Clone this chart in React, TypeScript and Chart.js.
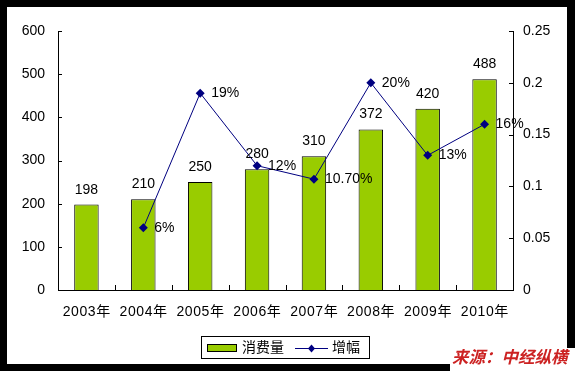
import React, { useEffect, useRef } from "react";
import { Chart, registerables } from "chart.js";

Chart.register(...registerables);

const categories = ["2003年", "2004年", "2005年", "2006年", "2007年", "2008年", "2009年", "2010年"];
const consumption = [198, 210, 250, 280, 310, 372, 420, 488];
const growth: (number | null)[] = [null, 0.06, 0.19, 0.12, 0.107, 0.2, 0.13, 0.16];
const growthLabels = ["", "6%", "19%", "12%", "10.70%", "20%", "13%", "16%"];
const leftTicks = [0, 100, 200, 300, 400, 500, 600];
const rightTicks = [0, 0.05, 0.1, 0.15, 0.2, 0.25];
const legendLabels = ["消费量", "增幅"];
const sourceText = "来源：中经纵横";

const FONT = "'Liberation Sans', Arial, 'Noto Sans CJK SC', sans-serif";

const framePlugin = {
  id: "frame",
  beforeDraw(chart: any) {
    const ctx = chart.ctx;
    const w = chart.width, h = chart.height;
    ctx.save();
    ctx.fillStyle = "#000";
    ctx.fillRect(0, 0, w, h);
    ctx.fillStyle = "#fff";
    ctx.fillRect(7, 7, 560, 357);
    ctx.fillRect(450, 348, w - 450, h - 348);
    ctx.restore();
  },
  afterDraw(chart: any) {
    const ctx = chart.ctx;
    const area = chart.chartArea;
    const yL = chart.scales.y;
    const yR = chart.scales.y1;
    ctx.save();
    ctx.strokeStyle = "#000";
    ctx.lineWidth = 1;
    ctx.beginPath();
    leftTicks.forEach((v) => {
      const py = Math.round(yL.getPixelForValue(v)) + 0.5;
      ctx.moveTo(area.left, py);
      ctx.lineTo(area.left + 4, py);
    });
    rightTicks.forEach((v) => {
      const py = Math.round(yR.getPixelForValue(v)) + 0.5;
      ctx.moveTo(area.right, py);
      ctx.lineTo(area.right - 4, py);
    });
    const n = categories.length;
    const step = (area.right - area.left) / n;
    for (let i = 1; i < n; i++) {
      const px = Math.round(area.left + step * i) + 0.5;
      ctx.moveTo(px, area.bottom);
      ctx.lineTo(px, area.bottom - 5);
    }
    ctx.stroke();

    // x category labels (drawn manually for letter spacing)
    ctx.fillStyle = "#000";
    ctx.font = "14px " + FONT;
    ctx.textAlign = "center";
    ctx.textBaseline = "middle";
    (ctx as any).letterSpacing = "0.6px";
    categories.forEach((c, i) => {
      const cx = area.left + step * (i + 0.5);
      ctx.fillText(c, cx + 0.3, area.bottom + 22);
    });
    (ctx as any).letterSpacing = "0px";

    // bar value labels
    ctx.textAlign = "center";
    ctx.textBaseline = "alphabetic";
    const barMeta = chart.getDatasetMeta(1);
    barMeta.data.forEach((el: any, i: number) => {
      ctx.fillText(String(consumption[i]), el.x, el.y - 11);
    });
    // line labels
    const lineMeta = chart.getDatasetMeta(0);
    ctx.textAlign = "left";
    ctx.textBaseline = "middle";
    lineMeta.data.forEach((el: any, i: number) => {
      if (growth[i] == null) return;
      ctx.fillText(growthLabels[i], el.x + 11, el.y);
    });

    // legend
    const lx = 201.5, ly = 336.5, lw = 168, lh = 22;
    ctx.strokeStyle = "#000";
    ctx.strokeRect(lx, ly, lw, lh);
    ctx.fillStyle = "#99CC00";
    ctx.fillRect(207, 344, 30, 8);
    ctx.strokeRect(207.5, 344.5, 29, 7);
    ctx.fillStyle = "#000";
    ctx.font = "14px " + FONT;
    ctx.textBaseline = "middle";
    ctx.fillText(legendLabels[0], 242, 348);
    ctx.strokeStyle = "#000080";
    ctx.beginPath();
    ctx.moveTo(295, 348.5);
    ctx.lineTo(328, 348.5);
    ctx.stroke();
    ctx.fillStyle = "#000080";
    ctx.beginPath();
    ctx.moveTo(311.5, 344.5);
    ctx.lineTo(315, 348.5);
    ctx.lineTo(311.5, 352.5);
    ctx.lineTo(308, 348.5);
    ctx.closePath();
    ctx.fill();
    ctx.fillStyle = "#000";
    ctx.fillText(legendLabels[1], 332, 348);

    // source
    ctx.fillStyle = "#CC2222";
    ctx.font = "italic bold 16.5px 'Noto Sans CJK SC', sans-serif";
    ctx.textAlign = "left";
    ctx.textBaseline = "middle";
    ctx.fillText(sourceText, 452, 357);
    ctx.restore();
  },
};

export default function App() {
  const ref = useRef<HTMLCanvasElement>(null);
  useEffect(() => {
    if (!ref.current) return;
    const chart = new Chart(ref.current, {
      type: "bar",
      data: {
        labels: categories,
        datasets: [
          {
            type: "line",
            label: legendLabels[1],
            data: growth,
            yAxisID: "y1",
            borderColor: "#000080",
            backgroundColor: "#000080",
            borderWidth: 1,
            pointStyle: "rectRot",
            pointRadius: 4.5,
            pointBackgroundColor: "#000080",
            pointBorderColor: "#000080",
            pointBorderWidth: 0,
            spanGaps: false,
            order: 0,
          } as any,
          {
            type: "bar",
            label: legendLabels[0],
            data: consumption,
            yAxisID: "y",
            backgroundColor: "#99CC00",
            borderColor: "#000",
            borderWidth: 1,
            barPercentage: 0.43,
            categoryPercentage: 1,
            order: 1,
          },
        ],
      },
      options: {
        animation: false,
        responsive: true,
        maintainAspectRatio: false,
        layout: { padding: { left: 0, right: 0, top: 31, bottom: 0 } },
        plugins: { legend: { display: false }, tooltip: { enabled: false } },
        scales: {
          x: {
            offset: true,
            grid: { display: false, drawTicks: false },
            border: { display: true, color: "#000", width: 1 },
            ticks: { display: false },
            afterFit: (s: any) => { s.height = 81; },
          },
          y: {
            position: "left",
            min: 0,
            max: 600,
            ticks: { stepSize: 100, color: "#000", font: { size: 14, family: FONT }, padding: 13 },
            grid: { display: false, drawTicks: false },
            border: { display: true, color: "#000", width: 1 },
            afterFit: (s: any) => { s.width = 58; },
          },
          y1: {
            position: "right",
            min: 0,
            max: 0.25,
            ticks: {
              stepSize: 0.05,
              color: "#000",
              font: { size: 14, family: FONT },
              padding: 10,
              callback: (v: any) => String(Math.round(Number(v) * 100) / 100),
            },
            grid: { display: false, drawTicks: false },
            border: { display: true, color: "#000", width: 1 },
            afterFit: (s: any) => { s.width = 62; },
          },
        },
      },
      plugins: [framePlugin],
    });
    return () => chart.destroy();
  }, []);
  return (
    <div style={{ position: "absolute", left: 0, top: 0, width: 575, height: 371 }}>
      <canvas ref={ref} />
    </div>
  );
}
